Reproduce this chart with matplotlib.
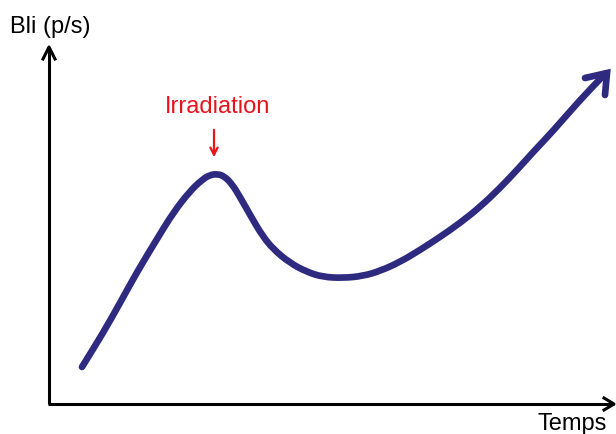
import matplotlib.pyplot as plt
from matplotlib.path import Path
from matplotlib.patches import PathPatch

# Sketch of luminescence (Bli) over time, with an irradiation peak
curve_x = [82, 103, 120, 137, 157, 173, 190, 203, 210, 217, 224, 232, 240,
           253, 262, 273, 290, 307, 323, 343, 363, 380, 400, 420, 440, 460,
           480, 500, 517, 535, 553, 580, 603]
curve_y = [367, 333, 303, 272, 239, 213, 191, 179, 175, 174, 176, 184, 197,
           220, 235, 249, 263, 272, 277, 278, 276, 271, 262, 250, 237, 223,
           207, 188, 170, 150, 131, 100, 76]

y_label = "Bli (p/s)"
x_label = "Temps"
event_label = "Irradiation"

navy = "#2e2a80"
red = "#e8131b"


def smooth_path(xs, ys):
    # quadratic segments through midpoints, so the stroke has no corners
    pts = list(zip(xs, ys))
    verts = [pts[0]]
    codes = [Path.MOVETO]
    mid = lambda a, b: ((a[0] + b[0]) / 2, (a[1] + b[1]) / 2)
    verts.append(mid(pts[0], pts[1]))
    codes.append(Path.LINETO)
    for i in range(1, len(pts) - 1):
        verts += [pts[i], mid(pts[i], pts[i + 1])]
        codes += [Path.CURVE3, Path.CURVE3]
    verts.append(pts[-1])
    codes.append(Path.LINETO)
    return Path(verts, codes)


fig = plt.figure(figsize=(6.16, 4.34), dpi=100)
ax = fig.add_axes([0, 0, 1, 1])
ax.set_xlim(0, 616)
ax.set_ylim(434, 0)
ax.axis("off")

# axes with open arrowheads
ax.plot([49, 49], [404, 48], color="black", lw=2.2, solid_capstyle="butt")
ax.plot([43, 49, 55], [59, 47, 59], color="black", lw=2.2)
ax.plot([48, 614], [404, 404], color="black", lw=2.2, solid_capstyle="butt")
ax.plot([604, 614, 604], [398, 404, 410], color="black", lw=2.2)

# main curve and its arrowhead
ax.add_patch(PathPatch(smooth_path(curve_x, curve_y), fill=False,
                       edgecolor=navy, lw=4.8, capstyle="round",
                       joinstyle="round"))
ax.plot([585, 607, 605], [78, 73, 95], color=navy, lw=4.8,
        solid_capstyle="round", solid_joinstyle="miter")

# irradiation marker
ax.annotate("", xy=(214, 160), xytext=(214, 127),
            arrowprops=dict(arrowstyle="->", color=red, lw=1.6,
                            mutation_scale=13))
ax.text(218, 107, event_label, color=red, fontsize=17,
        family="Liberation Sans", ha="center", va="center")

ax.text(10, 27, y_label, fontsize=17, family="Liberation Sans",
        ha="left", va="center")
ax.text(572, 424, x_label, fontsize=17, family="Liberation Sans",
        ha="center", va="center")

fig.savefig("out.png", dpi=100)
